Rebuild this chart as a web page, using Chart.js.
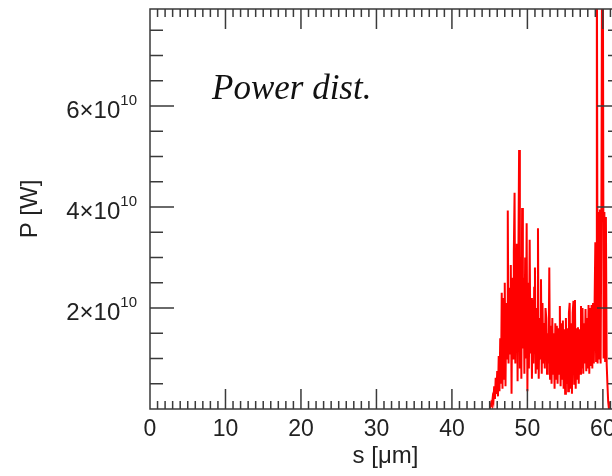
<!DOCTYPE html>
<html>
<head>
<meta charset="utf-8">
<script src="https://cdn.jsdelivr.net/npm/chart.js@4/dist/chart.umd.min.js"></script>
<style>
  html, body { margin: 0; padding: 0; background: #fff; overflow: hidden; }
  #wrap { width: 640px; height: 476px; }
</style>
</head>
<body>
<div id="wrap"><canvas id="powerChart" width="640" height="476"></canvas></div>
<script>
// s grid of the power samples [um]
const sStart = 45.0;
const sStep = 0.1;

// power in units of 1e10 W
const powerValues = [
    0, 0.05, 0.12, 0.08, 0.22, 0.15, 0.45, 0.2, 0.62, 0.3,          // 45.0
    0.75, 0.25, 1.05, 0.35, 1.4, 0.5, 2.3, 0.4, 2.2, 0.6,          // 46.0
    2.5, 0.45, 2.1, 1.0, 3.93, 0.9, 2.4, 1.1, 2.85, 0.3,           // 47.0
    2.6, 1.0, 3.1, 4.28, 0.9, 2.7, 3.27, 0.55, 2.9, 5.13,          // 48.0
    0.8, 3.0, 0.6, 3.98, 1.2, 2.6, 0.7, 3.0, 1.0, 3.68,            // 49.0
    0.35, 2.5, 0.8, 3.35, 1.1, 2.2, 0.6, 2.16, 0.9, 2.4,           // 50.0
    2.8, 0.7, 2.0, 0.8, 3.58, 0.6, 1.8, 1.0, 2.57, 0.7,            // 51.0
    2.1, 0.9, 1.7, 0.8, 2.0, 1.8, 0.7, 1.5, 0.9, 2.8,              // 52.0
    0.6, 1.65, 0.5, 1.8, 0.7, 1.5, 0.4, 1.7, 0.6, 1.65,            // 53.0
    0.5, 1.6, 0.7, 2.04, 0.45, 1.7, 0.6, 1.75, 0.4, 1.58,          // 54.0
    0.3, 1.8, 0.5, 1.6, 0.35, 1.9, 2.1, 0.4, 1.7, 0.3,             // 55.0
    1.9, 2.14, 0.5, 2.16, 0.4, 1.6, 0.6, 1.62, 0.5, 1.58,          // 56.0
    0.7, 2.04, 0.8, 2.0, 0.7, 1.7, 0.9, 1.98, 0.75, 1.8,           // 57.0
    0.8, 2.06, 0.7, 2.0, 0.85, 2.06, 0.8, 2.1, 0.9, 2.08,          // 58.0
    3.3, 0.95, 9.5, 0.9, 3.9, 1.0, 3.95, 0.9, 3.8, 9.5,            // 59.0
    8.8, 1.0, 3.9, 0.95, 3.8, 0.9, 0.5, 0.15, 0                    // 60.0
];

const xMajorLabels = [0, 10, 20, 30, 40, 50, 60];
const yLabelMantissas = [2, 4, 6];
const yLabelExponent = '10';

const X_MAX = 62.4;
const Y_MAX = 7.92;

const points = powerValues.map((p, i) => ({ x: +(sStart + i * sStep).toFixed(1), y: p }));

const axisColor = '#3a3a3a';
const sansFont = "'Liberation Sans', Arial, sans-serif";

const framePlugin = {
    id: 'frame',
    afterDatasetsDraw(chart) {
        const { ctx, chartArea: a, scales: { x, y } } = chart;
        ctx.save();
        ctx.strokeStyle = axisColor;
        ctx.lineWidth = 1.5;
        ctx.beginPath();
        // x ticks, every 1 um, long every 10
        for (let v = 1; v < X_MAX; v++) {
            const px = x.getPixelForValue(v);
            const len = v % 10 === 0 ? 20 : 8;
            ctx.moveTo(px, a.bottom);
            ctx.lineTo(px, a.bottom - len);
            ctx.moveTo(px, a.top);
            ctx.lineTo(px, a.top + len);
        }
        // y ticks, every 0.5e10, long every 2e10
        for (let k = 1; k * 0.5 < Y_MAX; k++) {
            const py = y.getPixelForValue(k * 0.5);
            const len = k % 4 === 0 ? 24 : 13;
            ctx.moveTo(a.left, py);
            ctx.lineTo(a.left + len, py);
            ctx.moveTo(a.right, py);
            ctx.lineTo(a.right - len, py);
        }
        ctx.stroke();
        ctx.strokeRect(a.left, a.top, a.right - a.left, a.bottom - a.top);
        ctx.restore();
    },
    afterDraw(chart) {
        const { ctx, scales: { y } } = chart;
        ctx.save();
        ctx.fillStyle = '#222';
        ctx.textBaseline = 'alphabetic';
        ctx.textAlign = 'left';
        yLabelMantissas.forEach(m => {
            const py = y.getPixelForValue(m);
            const main = m + '×10';
            ctx.font = '24px ' + sansFont;
            const mainW = ctx.measureText(main).width;
            ctx.font = '15px ' + sansFont;
            const supW = ctx.measureText(yLabelExponent).width;
            const right = 137;
            ctx.font = '24px ' + sansFont;
            ctx.fillText(main, right - supW - mainW, py + 12);
            ctx.font = '15px ' + sansFont;
            ctx.fillText(yLabelExponent, right - supW, py - 1);
        });
        ctx.fillStyle = '#111';
        ctx.font = "italic 35px 'Liberation Serif', serif";
        ctx.fillText('Power dist.', 212, 99);
        ctx.restore();
    }
};

new Chart(document.getElementById('powerChart').getContext('2d'), {
    type: 'line',
    data: {
        datasets: [{
            data: points,
            borderColor: '#ff0000',
            borderWidth: 2,
            pointRadius: 0,
            tension: 0,
            fill: false
        }]
    },
    options: {
        responsive: false,
        animation: false,
        layout: { padding: { top: 9, right: 19, left: 0, bottom: 0 } },
        plugins: { legend: { display: false }, tooltip: { enabled: false } },
        scales: {
            x: {
                type: 'linear',
                min: 0,
                max: X_MAX,
                grid: { display: false, drawTicks: false },
                border: { display: false },
                afterBuildTicks: s => { s.ticks = xMajorLabels.map(v => ({ value: v })); },
                ticks: {
                    autoSkip: false,
                    maxRotation: 0,
                    padding: 7,
                    color: '#222',
                    font: { family: sansFont, size: 23 },
                    callback: v => String(v)
                },
                title: {
                    display: true,
                    text: 's [μm]',
                    color: '#222',
                    font: { family: sansFont, size: 24 },
                    padding: { top: 0, bottom: 5 }
                },
                afterFit: s => { s.height = 67; }
            },
            y: {
                min: 0,
                max: Y_MAX,
                grid: { display: false, drawTicks: false },
                border: { display: false },
                ticks: { display: false },
                title: {
                    display: true,
                    text: 'P [W]',
                    color: '#222',
                    font: { family: sansFont, size: 24 },
                    padding: { top: 16, bottom: 0 }
                },
                afterFit: s => { s.width = 150; }
            }
        }
    },
    plugins: [framePlugin]
});
</script>
</body>
</html>
